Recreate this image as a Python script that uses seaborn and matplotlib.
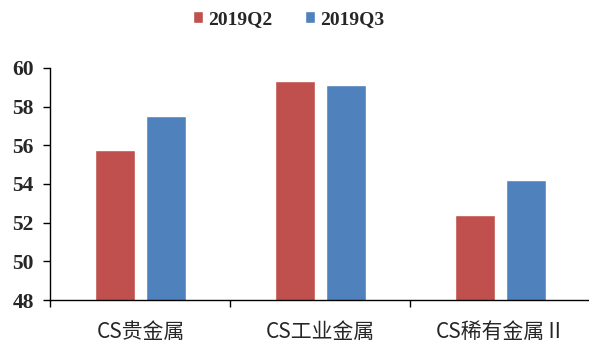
import matplotlib
matplotlib.use("Agg")
import matplotlib.pyplot as plt
import seaborn as sns
import pandas as pd

categories = ["CS贵金属", "CS工业金属", "CS稀有金属Ⅱ"]
periods = ["2019Q2", "2019Q3"]
values_q2 = [55.78, 59.35, 52.4]
values_q3 = [57.5, 59.1, 54.2]
colors = ["#C0504D", "#4F81BD"]
y_ticks = [48, 50, 52, 54, 56, 58, 60]

df = pd.DataFrame({
    "板块": categories * 2,
    "时期": [periods[0]] * 3 + [periods[1]] * 3,
    "值": values_q2 + values_q3,
})

sns.set_theme(style="white")
plt.rcParams["font.family"] = ["Noto Sans CJK SC", "DejaVu Sans"]

fig = plt.figure(figsize=(5.89, 3.42), dpi=100)
ax = fig.add_axes([0.0857, 0.1228, 0.9168, 0.6784])

sns.barplot(data=df, x="板块", y="值", hue="时期", palette=colors,
            width=0.567, gap=0.216, ax=ax, legend=True, saturation=1)

ax.set_ylim(48, 60)
ax.set_xlim(-0.5, 2.5)
ax.set_yticks(y_ticks)
ax.set_yticklabels([str(t) for t in y_ticks],
                   fontdict={"family": "Liberation Serif", "weight": "bold", "size": 15.5})
ax.set_xlabel("")
ax.set_ylabel("")

# category labels centred, tick marks at the boundaries
ax.set_xticks(range(len(categories)))
ax.set_xticklabels(categories, fontsize=15)
ax.set_xticks([-0.5, 0.5, 1.5, 2.5], minor=True)
ax.tick_params(axis="x", which="major", bottom=False, length=0, pad=15)
ax.tick_params(axis="x", which="minor", bottom=True, length=5, width=1,
               color="black", direction="out")
ax.tick_params(axis="y", which="major", left=True, length=5, width=1,
               color="black", direction="out", pad=7)

for side in ["top", "right"]:
    ax.spines[side].set_visible(False)
for side in ["left", "bottom"]:
    ax.spines[side].set_color("black")
    ax.spines[side].set_linewidth(1.0)

handles, labels = ax.get_legend_handles_labels()
ax.legend_.remove()
fig.legend(handles, labels, loc="upper center", bbox_to_anchor=(0.49, 1.02), ncol=2,
           frameon=False, handlelength=0.5, handleheight=0.6, handletextpad=0.25,
           columnspacing=1.7, prop={"family": "Liberation Serif", "weight": "bold", "size": 14})

fig.savefig("out.png", dpi=100)
